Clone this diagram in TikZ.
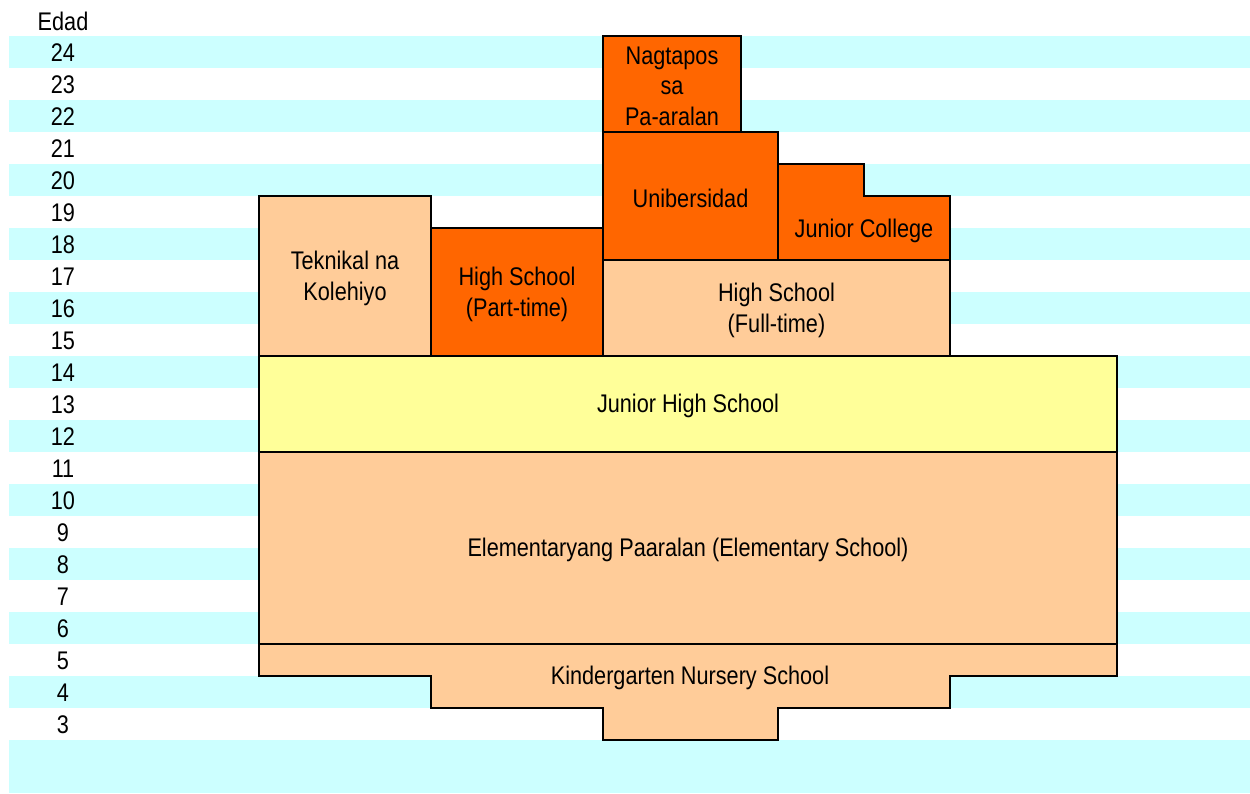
\documentclass[tikz,border=0pt]{standalone}
\usepackage{fontspec}
\setmainfont{Liberation Sans}[FakeStretch=0.85]
\definecolor{stripe}{HTML}{CCFFFF}
\definecolor{peach}{HTML}{FFCC99}
\definecolor{orng}{HTML}{FF6600}
\definecolor{yel}{HTML}{FFFF99}
\begin{document}
\begin{tikzpicture}[x=1pt,y=-1pt,
  txt/.style={font=\fontsize{25.5}{31}\selectfont, align=center, inner sep=0pt},
  outline/.style={draw=black, line width=2pt, line join=miter}]
\useasboundingbox (0,0) rectangle (1250,793);
% stripes
\foreach \a in {24,22,...,4}{
  \fill[stripe] (9,{36+(24-\a)*32}) rectangle (1250,{68+(24-\a)*32});
}
\fill[stripe] (9,740) rectangle (1250,793);
% ages
\node[txt] (edad) at (63,21) {Edad};
\foreach \a in {24,23,...,3}{
  \node[txt] (age\a) at (63,{53+(24-\a)*32}) {\a};
}
% boxes
\draw[outline, fill=peach] (259,452) rectangle (1117,644);
\node[txt] (elem) at (688,550) {Elementaryang Paaralan (Elementary School)};
\draw[outline, fill=peach] (259,644) -- (1117,644) -- (1117,676) -- (950,676) -- (950,708) -- (778,708) -- (778,740) -- (603,740) -- (603,708) -- (431,708) -- (431,676) -- (259,676) -- cycle;
\node[txt] (kinder) at (690,677.5) {Kindergarten Nursery School};
\draw[outline, fill=yel] (259,356) rectangle (1117,452);
\node[txt] (jhs) at (688,405.5) {Junior High School};
\draw[outline, fill=peach] (259,196) rectangle (431,356);
\node[txt] (tek) at (345,278) {Teknikal na\\Kolehiyo};
\draw[outline, fill=orng] (431,228) rectangle (603,356);
\node[txt] (hspt) at (517,294) {High School\\(Part-time)};
\draw[outline, fill=peach] (603,260) rectangle (950,356);
\node[txt] (hsft) at (776.5,310) {High School\\(Full-time)};
\draw[outline, fill=orng] (603,132) rectangle (778,260);
\node[txt] (uni) at (690.5,198.5) {Unibersidad};
\draw[outline, fill=orng] (778,164) -- (864,164) -- (864,196) -- (950,196) -- (950,260) -- (778,260) -- cycle;
\node[txt] (jc) at (864,231) {Junior College};
\draw[outline, fill=orng] (603,36) rectangle (741,132);
\node[txt, font=\fontsize{25.5}{30.5}\selectfont] (grad) at (672,86) {Nagtapos\\sa\\Pa-aralan};
\end{tikzpicture}
\end{document}
